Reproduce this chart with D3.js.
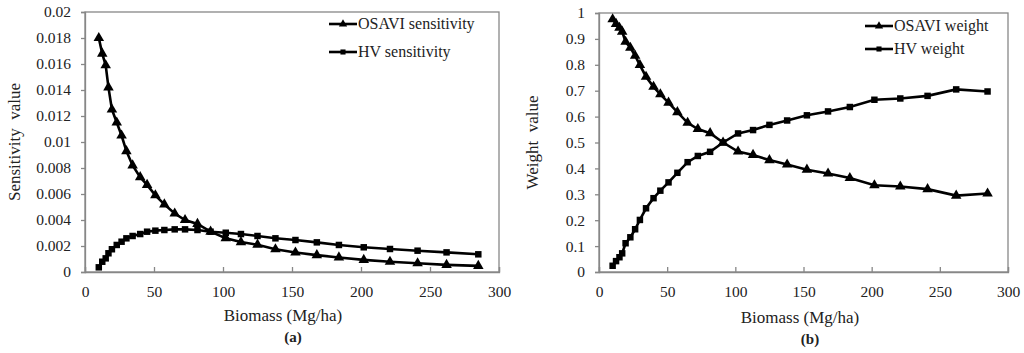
<!DOCTYPE html>
<html><head><meta charset="utf-8">
<script src="https://cdn.jsdelivr.net/npm/d3@7"></script>
<style>body{margin:0;background:#fff}svg{display:block}svg text{font-family:"Liberation Serif","Times New Roman",Times,"DejaVu Serif",serif !important;fill:#222}</style>
</head><body>
<svg id="c" width="1024" height="353"></svg>
<script>
const biomass = [10,12.5,15,17,19.5,23,26.5,30,34.5,40,45,51,57.5,65,72.5,81.5,91,102,113,125,138,152.5,168,184,202,221,241,262,285];
const osaviSens = [0.0180,0.0168,0.0159,0.0142,0.0125,0.0115,0.0105,0.0093,0.0082,0.0073,0.0067,0.0059,0.0052,0.0045,0.0040,0.0037,0.0031,0.0026,0.0023,0.0021,0.00175,0.0015,0.0013,0.00112,0.00093,0.00079,0.00067,0.00055,0.00047];
const hvSens = [0.00036,0.00079,0.00105,0.00144,0.00175,0.00208,0.00233,0.00259,0.00277,0.00292,0.0031,0.00318,0.00323,0.00328,0.00328,0.00323,0.0031,0.00302,0.00292,0.00277,0.00259,0.00246,0.00228,0.00208,0.0019,0.00177,0.00164,0.00151,0.00136];
const osaviWeight = [0.976,0.958,0.943,0.928,0.889,0.866,0.835,0.799,0.754,0.715,0.686,0.654,0.617,0.576,0.552,0.536,0.500,0.465,0.452,0.432,0.415,0.395,0.380,0.363,0.335,0.330,0.320,0.295,0.303];
const hvWeight = [0.024,0.042,0.057,0.072,0.111,0.134,0.165,0.201,0.246,0.285,0.314,0.346,0.383,0.424,0.448,0.464,0.500,0.535,0.548,0.568,0.585,0.605,0.620,0.637,0.665,0.670,0.680,0.705,0.697];
const xTicks = [0,50,100,150,200,250,300];
const yTicksA = [0,0.002,0.004,0.006,0.008,0.01,0.012,0.014,0.016,0.018,0.02];
const yTicksB = [0,0.1,0.2,0.3,0.4,0.5,0.6,0.7,0.8,0.9,1];
const legendA = ["OSAVI sensitivity","HV sensitivity"];
const legendB = ["OSAVI weight","HV weight"];

const svg = d3.select("#c");
const grey = "#878787";
const FONT = '"Liberation Serif","Times New Roman",Times,"DejaVu Serif",serif';

function panel(o){
  const x = d3.scaleLinear().domain([0,300]).range([o.l,o.r]);
  const y = d3.scaleLinear().domain(o.yDomain).range([o.b,o.t]);
  const g = svg.append("g");
  g.append("rect").attr("x",o.l).attr("y",o.t).attr("width",o.r-o.l).attr("height",o.b-o.t)
    .attr("fill","none").attr("stroke",grey).attr("stroke-width",1.3);
  const xa = g.append("g").attr("transform",`translate(0,${o.b})`)
    .call(d3.axisBottom(x).tickValues(xTicks).tickSize(-5).tickPadding(14).tickFormat(d3.format("d")));
  const ya = g.append("g").attr("transform",`translate(${o.l},0)`)
    .call(d3.axisLeft(y).tickValues(o.yTicks).tickSize(4).tickPadding(10).tickFormat(d=>String(+d.toFixed(4))));
  [xa,ya].forEach(a=>{
    a.attr("font-family",FONT);
    a.select(".domain").attr("stroke",grey).attr("stroke-width",1.3);
    a.selectAll(".tick line").attr("stroke",grey).attr("stroke-width",1.3);
    a.selectAll("text").attr("font-size",15.5).attr("fill","#222");
  });
  const line = d3.line().x((d,i)=>x(biomass[i])).y(d=>y(d));
  o.series.forEach((s,k)=>{
    g.append("path").datum(s).attr("d",line).attr("fill","none").attr("stroke","#000").attr("stroke-width",2.6);
    const sym = d3.symbol().type(k===0?d3.symbolTriangle:d3.symbolSquare).size(k===0?48:42);
    g.selectAll(null).data(s).enter().append("path")
      .attr("transform",(d,i)=>`translate(${x(biomass[i])},${y(d)})`).attr("d",sym).attr("fill","#000");
  });
  o.legend.forEach((t,k)=>{
    const ly = o.legY[k];
    g.append("line").attr("x1",o.legX).attr("x2",o.legX+28).attr("y1",ly).attr("y2",ly).attr("stroke","#000").attr("stroke-width",2.6);
    g.append("path").attr("transform",`translate(${o.legX+14},${ly})`)
      .attr("d",d3.symbol().type(k===0?d3.symbolTriangle:d3.symbolSquare).size(k===0?30:26)).attr("fill","#000");
    g.append("text").attr("x",o.legX+29).attr("y",ly+5).attr("font-size",16).text(t);
  });
  g.append("text").attr("transform",`translate(${o.ylx},${(o.t+o.b)/2}) rotate(-90)`).attr("text-anchor","middle")
    .attr("font-size",17).attr("xml:space","preserve").style("white-space","pre").text(o.ylabel);
  g.append("text").attr("x",o.xlx).attr("y",o.xly).attr("text-anchor","middle").attr("font-size",17).text("Biomass (Mg/ha)");
  g.append("text").attr("x",o.xlx+10).attr("y",o.xly+21).attr("text-anchor","middle").attr("font-size",15).attr("font-weight","bold").text(o.tag);
}

panel({l:85,r:499,t:12,b:272,yDomain:[0,0.02],yTicks:yTicksA,series:[osaviSens,hvSens],legend:legendA,legX:329,legY:[24,52],
  ylabel:"Sensitivity  value",ylx:20,xlx:283,xly:321,tag:"(a)"});
panel({l:599,r:1008,t:13,b:272,yDomain:[0,1],yTicks:yTicksB,series:[osaviWeight,hvWeight],legend:legendB,legX:865,legY:[26,49],
  ylabel:"Weight  value",ylx:538,xlx:800,xly:323,tag:"(b)"});
</script>
</body></html>
